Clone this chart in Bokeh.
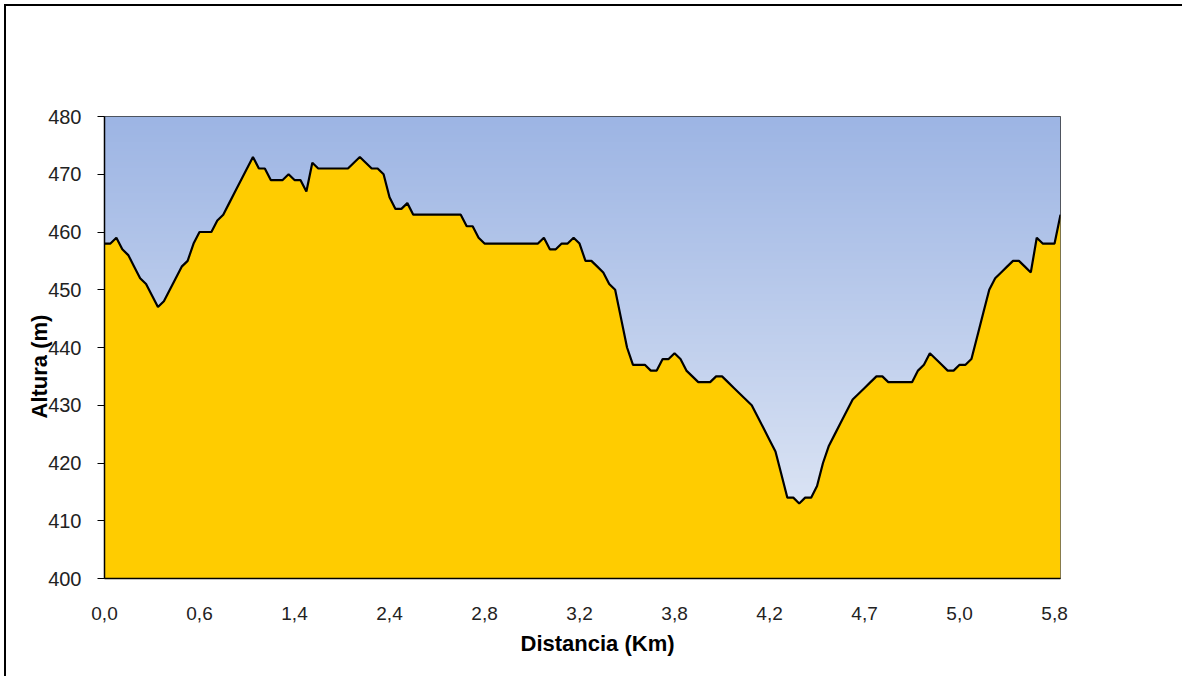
import numpy as np
from bokeh.plotting import figure
from bokeh.models import FixedTicker, Range1d, Title
from bokeh.embed import file_html
from bokeh.resources import INLINE

# ---- data ----
elevation = [
    458, 458, 459, 457, 456, 454, 452, 451, 449, 447,
    448, 450, 452, 454, 455, 458, 460, 460, 460, 462,
    463, 465, 467, 469, 471, 473, 471, 471, 469, 469,
    469, 470, 469, 469, 467, 472, 471, 471, 471, 471,
    471, 471, 472, 473, 472, 471, 471, 470, 466, 464,
    464, 465, 463, 463, 463, 463, 463, 463, 463, 463,
    463, 461, 461, 459, 458, 458, 458, 458, 458, 458,
    458, 458, 458, 458, 459, 457, 457, 458, 458, 459,
    458, 455, 455, 454, 453, 451, 450, 445, 440, 437,
    437, 437, 436, 436, 438, 438, 439, 438, 436, 435,
    434, 434, 434, 435, 435, 434, 433, 432, 431, 430,
    428, 426, 424, 422, 418, 414, 414, 413, 414, 414,
    416, 420, 423, 425, 427, 429, 431, 432, 433, 434,
    435, 435, 434, 434, 434, 434, 434, 436, 437, 439,
    438, 437, 436, 436, 437, 437, 438, 442, 446, 450,
    452, 453, 454, 455, 455, 454, 453, 459, 458, 458,
    458, 463,
]
tick_labels = ["0,0", "0,6", "1,4", "2,4", "2,8", "3,2", "3,8", "4,2", "4,7", "5,0", "5,8"]
label_step = 16
y_ticks = [400, 410, 420, 430, 440, 450, 460, 470, 480]
y_min, y_max = 400, 480

n = len(elevation)
idx = list(range(n))
x_ticks = idx[::label_step]

FONT = "Liberation Sans"

p = figure(width=1178, height=672, output_backend="svg", toolbar_location=None,
           x_range=Range1d(0, n - 1), y_range=Range1d(y_min, y_max),
           min_border_left=98, min_border_right=124, min_border_top=110,
           min_border_bottom=100)
p.title.visible = False
p.styles = {"margin-left": "6px", "margin-top": "6px",
            "box-shadow": "-2px -2px 0px 0px black"}
p.background_fill_color = "white"
p.border_fill_color = "white"

# gradient plot-area background (blue at top to pale at bottom)
rows = 256
t = np.linspace(0.0, 1.0, rows)[:, None]
top = np.array([157, 181, 228], dtype=float)
bot = np.array([230, 236, 247], dtype=float)
cols = bot * (1 - t) + top * t
img = np.empty((rows, 1), dtype=np.uint32)
view = img.view(dtype=np.uint8).reshape((rows, 1, 4))
view[:, 0, 0] = cols[:, 0]
view[:, 0, 1] = cols[:, 1]
view[:, 0, 2] = cols[:, 2]
view[:, 0, 3] = 255
p.image_rgba(image=[img], x=0, y=y_min, dw=n - 1, dh=y_max - y_min)

p.varea(x=idx, y1=[y_min] * n, y2=elevation, fill_color="#FFCC00")
p.line(idx, elevation, line_color="black", line_width=2.2)

p.xgrid.visible = False
p.ygrid.visible = False
p.outline_line_color = "#333333"
p.outline_line_width = 1

# x axis
p.xaxis.ticker = FixedTicker(ticks=x_ticks)
p.xaxis.major_label_overrides = {tk: lab for tk, lab in zip(x_ticks, tick_labels)}
p.xaxis.major_tick_out = 0
p.xaxis.major_tick_in = 0
p.xaxis.minor_tick_line_color = None
p.xaxis.axis_line_color = "black"
p.xaxis.axis_line_width = 1.5
p.xaxis.major_label_standoff = 28
p.xaxis.major_label_text_font = FONT
p.xaxis.major_label_text_font_size = "19px"
p.xaxis.major_label_text_color = "#222222"

# x-axis title (slightly right of centre as in the original)
xtitle = Title(text="Distancia (Km)", align="left", offset=416, standoff=13,
               text_font=FONT, text_font_style="bold", text_font_size="22px",
               text_color="black")
p.add_layout(xtitle, "below")

# y axis
p.yaxis.ticker = FixedTicker(ticks=y_ticks)
p.yaxis.major_tick_out = 7
p.yaxis.major_tick_in = 0
p.yaxis.major_tick_line_color = "black"
p.yaxis.minor_tick_line_color = None
p.yaxis.axis_line_color = "black"
p.yaxis.axis_line_width = 1.5
p.yaxis.major_label_standoff = 16
p.yaxis.major_label_text_font = FONT
p.yaxis.major_label_text_font_size = "20px"
p.yaxis.major_label_text_color = "#222222"

# rotated y-axis title, left of the tick labels, placed below centre as in the original
ytitle = Title(text="Altura (m)", align="left", offset=160, standoff=-12,
               text_font=FONT, text_font_style="bold", text_font_size="22px",
               text_color="black")
p.add_layout(ytitle, "left")

open("out.html", "w").write(file_html(p, INLINE))
